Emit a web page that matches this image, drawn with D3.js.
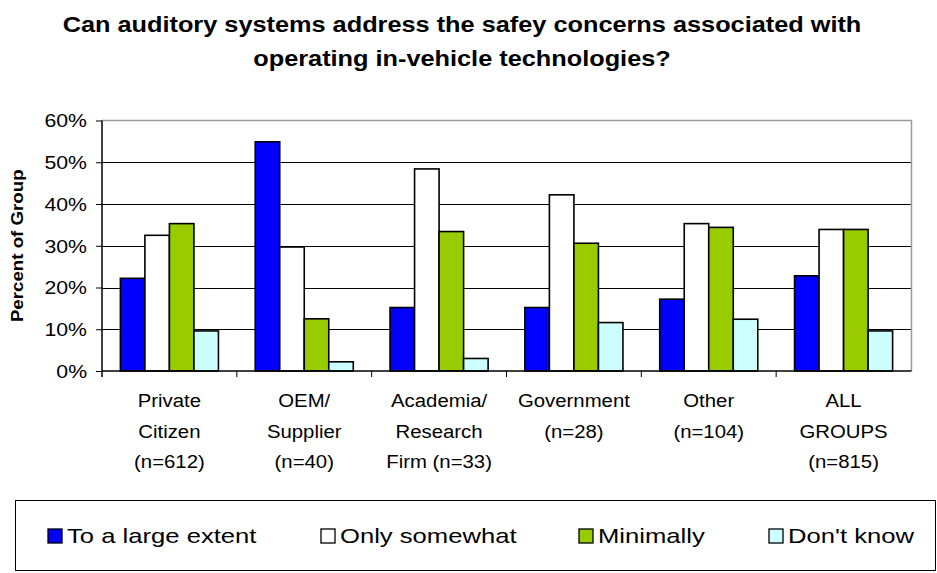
<!DOCTYPE html>
<html>

<head>
  <title>auditory systems chart</title>
  <meta charset="utf-8">
  <script src="https://d3js.org/d3.v7.min.js"></script>
  <style type="text/css">
    body {
      margin: 0;
      background: #fff;
    }

    text {
      font-family: Arial, "Liberation Sans", sans-serif;
      fill: #000;
    }

    .title {
      font-size: 22px;
      font-weight: bold;
    }

    .ylabel {
      font-size: 17px;
      font-weight: bold;
    }

    .axis text {
      font-size: 18px;
    }

    .legend text {
      font-size: 21px;
    }
  </style>
</head>

<body>
  <svg id="chart"></svg>
  <script>
    // data
    var categories = ["Private\nCitizen\n(n=612)", "OEM/\nSupplier\n(n=40)", "Academia/\nResearch\nFirm (n=33)",
      "Government\n(n=28)", "Other\n(n=104)", "ALL\nGROUPS\n(n=815)"];
    var seriesNames = ["To a large extent", "Only somewhat", "Minimally", "Don't know"];
    var seriesColors = ["#0000ff", "#ffffff", "#99cc00", "#ccffff"];
    var largeExtent = [0.222, 0.549, 0.152, 0.152, 0.172, 0.228];
    var onlySomewhat = [0.325, 0.297, 0.484, 0.422, 0.353, 0.339];
    var minimally = [0.353, 0.125, 0.334, 0.306, 0.344, 0.339];
    var dontKnow = [0.096, 0.022, 0.030, 0.116, 0.124, 0.096];
    var yTicks = [0, 0.1, 0.2, 0.3, 0.4, 0.5, 0.6];
    var titleLines = ["Can auditory systems address the safey concerns associated with",
      "operating in-vehicle technologies?"];

    var values = [largeExtent, onlySomewhat, minimally, dontKnow];

    var W = 937, H = 573;
    var margin = { top: 120.5, right: 26, bottom: 202, left: 102 };

    var svg = d3.select("#chart").attr("width", W).attr("height", H);

    // the picture looks a bit wider than normal Arial, stretch text a little
    function stretch(sel, k) {
      sel.each(function () {
        var len = this.getComputedTextLength();
        d3.select(this).attr("textLength", len * k).attr("lengthAdjust", "spacingAndGlyphs");
      });
    }

    var x0 = d3.scaleBand()
      .domain(categories)
      .range([margin.left, W - margin.right]);

    var x1 = d3.scaleBand()
      .domain(d3.range(seriesNames.length))
      .range([0, x0.bandwidth()])
      .paddingOuter(0.75);

    var y = d3.scaleLinear()
      .domain([0, 0.6])
      .range([H - margin.bottom, margin.top]);

    // title
    svg.append("g").selectAll("text")
      .data(titleLines)
      .enter().append("text")
      .attr("class", "title")
      .attr("x", 462)
      .attr("y", function (d, i) { return 32 + i * 34; })
      .attr("text-anchor", "middle")
      .text(function (d) { return d; })
      .call(stretch, 1.15);

    // gridlines
    svg.append("g").selectAll("line")
      .data(yTicks.slice(1, -1))
      .enter().append("line")
      .attr("x1", margin.left).attr("x2", W - margin.right)
      .attr("y1", function (d) { return Math.round(y(d)) + 0.5; })
      .attr("y2", function (d) { return Math.round(y(d)) + 0.5; })
      .attr("stroke", "#000")
      .attr("stroke-width", 1);

    // plot frame top / right (grey)
    svg.append("path")
      .attr("d", "M" + margin.left + "," + (y(0.6)) + "H" + (W - margin.right + 0.5) + "V" + y(0))
      .attr("fill", "none")
      .attr("stroke", "#9a9a9a")
      .attr("stroke-width", 1.5);

    // bars
    var groups = svg.append("g").selectAll("g")
      .data(categories)
      .enter().append("g")
      .attr("transform", function (d) { return "translate(" + x0(d) + ",0)"; });

    groups.selectAll("rect")
      .data(function (d, ci) { return values.map(function (v, si) { return { s: si, v: v[ci] }; }); })
      .enter().append("rect")
      .attr("x", function (d) { return x1(d.s); })
      .attr("width", x1.bandwidth())
      .attr("y", function (d) { return y(d.v); })
      .attr("height", function (d) { return y(0) - y(d.v); })
      .attr("fill", function (d) { return seriesColors[d.s]; })
      .attr("stroke", "#000")
      .attr("stroke-width", 1.6);

    // y axis
    var yAxis = svg.append("g")
      .attr("class", "axis")
      .attr("transform", "translate(" + margin.left + ",0)")
      .call(d3.axisLeft(y).tickValues(yTicks).tickFormat(d3.format(".0%")).tickSize(6).tickPadding(9));
    yAxis.select(".domain").attr("stroke", "#000").attr("stroke-width", 1.5).attr("d", "M0," + y(0.6) + "V" + (y(0) + 6));
    yAxis.selectAll(".tick line").attr("stroke", "#000");
    yAxis.selectAll("text").attr("dy", "0.36em").call(stretch, 1.18);

    // x axis
    var xAxis = svg.append("g")
      .attr("class", "axis")
      .attr("transform", "translate(0," + y(0) + ")");
    xAxis.append("line")
      .attr("x1", margin.left).attr("x2", W - margin.right + 0.5)
      .attr("stroke", "#000").attr("stroke-width", 1.5);
    xAxis.selectAll(".xt")
      .data(categories.slice(1))
      .enter().append("line")
      .attr("class", "xt")
      .attr("x1", function (d) { return x0(d); }).attr("x2", function (d) { return x0(d); })
      .attr("y1", 0).attr("y2", 6)
      .attr("stroke", "#000");

    var xl = xAxis.selectAll(".xl")
      .data(categories)
      .enter().append("g")
      .attr("class", "xl");
    xl.each(function (d) {
      var lines = d.split("\n");
      d3.select(this).selectAll("text")
        .data(lines)
        .enter().append("text")
        .attr("x", x0(d) + x0.bandwidth() / 2)
        .attr("y", function (l, i) { return 36 + i * 30.5; })
        .attr("text-anchor", "middle")
        .text(function (l) { return l; })
        .call(stretch, 1.13);
    });

    // y label
    svg.append("text")
      .attr("class", "ylabel")
      .attr("transform", "translate(23," + ((y(0) + y(0.6)) / 2) + ") rotate(-90)")
      .attr("text-anchor", "middle")
      .text("Percent of Group")
      .call(stretch, 1.1);

    // legend
    var legend = svg.append("g").attr("class", "legend");
    legend.append("rect")
      .attr("x", 15.5).attr("y", 500.5)
      .attr("width", 920).attr("height", 70)
      .attr("fill", "#fff")
      .attr("stroke", "#000");

    var legendX = [48, 321, 579, 769];
    var items = legend.selectAll(".item")
      .data(seriesNames)
      .enter().append("g")
      .attr("class", "item")
      .attr("transform", function (d, i) { return "translate(" + legendX[i] + ",529)"; });
    items.append("rect")
      .attr("width", 14).attr("height", 14)
      .attr("fill", function (d, i) { return seriesColors[i]; })
      .attr("stroke", "#000")
      .attr("stroke-width", 1.3);
    items.append("text")
      .attr("x", 19)
      .attr("y", 14)
      .text(function (d) { return d; })
      .call(stretch, 1.22);
  </script>
</body>

</html>
